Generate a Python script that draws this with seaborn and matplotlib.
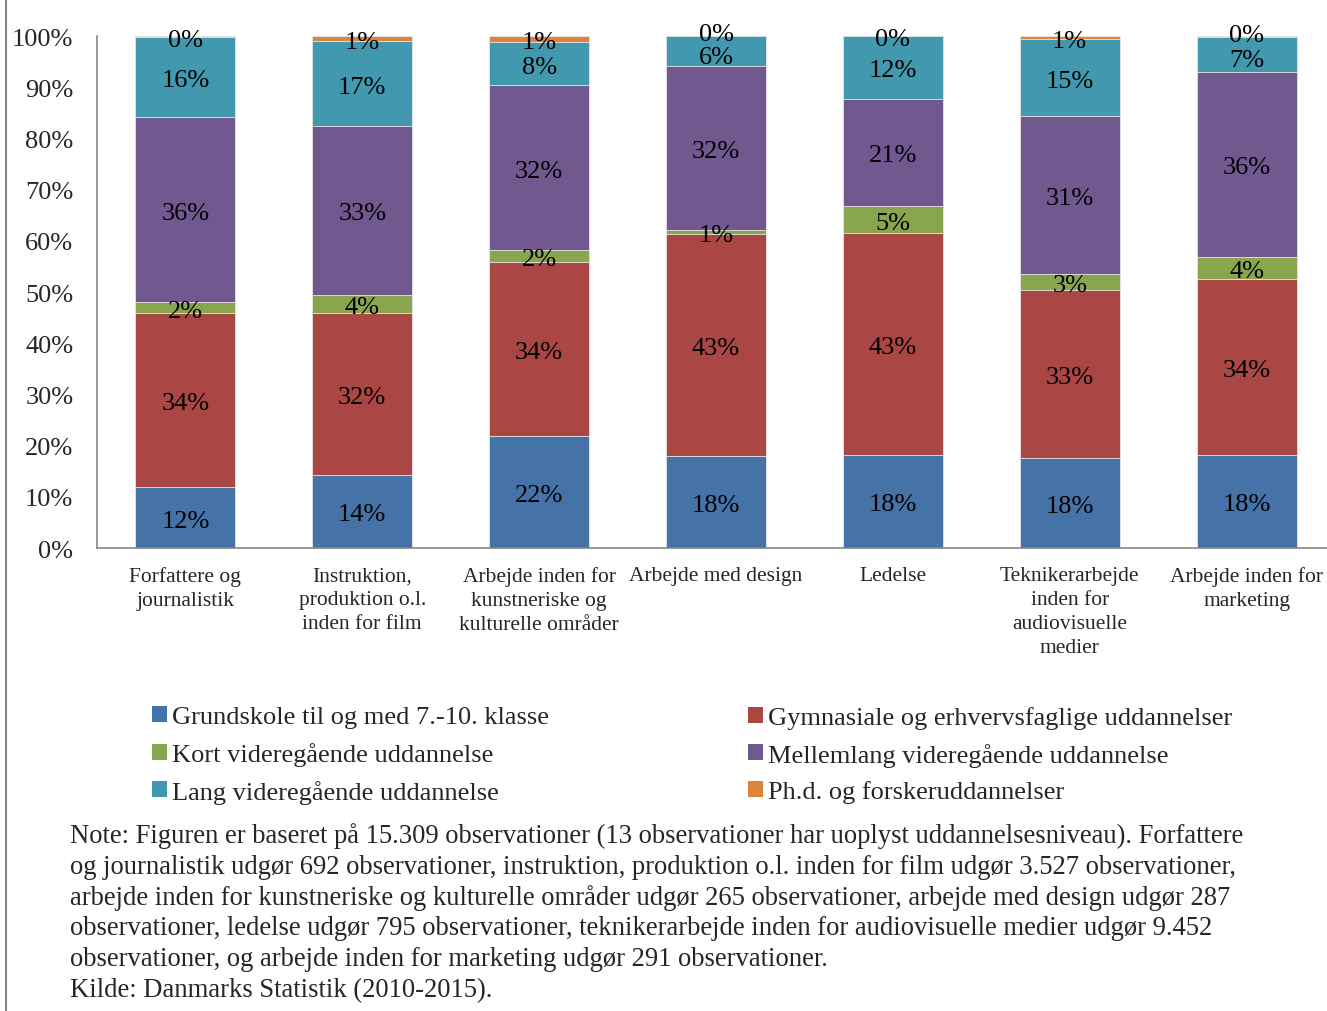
#Libraries
import pandas as pd
import matplotlib
matplotlib.use("Agg")
import matplotlib.pyplot as plt
import matplotlib.transforms as mtransforms
import seaborn as sns
from matplotlib.patches import Patch
from matplotlib.lines import Line2D

#Styling
sns.set_style("white")
plt.rcParams["font.family"] = ["Liberation Serif", "DejaVu Serif"]

#Data (shares in %)
categories = ["Forfattere og\njournalistik",
              "Instruktion,\nproduktion o.l.\ninden for film",
              "Arbejde inden for\nkunstneriske og\nkulturelle områder",
              "Arbejde med design",
              "Ledelse",
              "Teknikerarbejde\ninden for\naudiovisuelle\nmedier",
              "Arbejde inden for\nmarketing"]
levels = ["Grundskole til og med 7.-10. klasse",
          "Gymnasiale og erhvervsfaglige uddannelser",
          "Kort videregående uddannelse",
          "Mellemlang videregående uddannelse",
          "Lang videregående uddannelse",
          "Ph.d. og forskeruddannelser"]
grundskole = [11.9, 14.3, 21.9, 18.0, 18.2, 17.6, 18.2]
gymnasiale = [34.0, 31.6, 34.0, 43.3, 43.3, 32.7, 34.3]
kort = [2.1, 3.6, 2.3, 0.8, 5.3, 3.2, 4.4]
mellemlang = [36.2, 32.9, 32.2, 32.0, 20.9, 30.8, 36.1]
lang = [15.6, 16.6, 8.4, 5.9, 12.3, 15.1, 6.8]
phd = [0.2, 1.0, 1.2, 0.0, 0.0, 0.6, 0.2]
y_ticks = [0, 10, 20, 30, 40, 50, 60, 70, 80, 90, 100]

colors = ["#4572A7", "#AA4643", "#89A54E", "#71588F", "#4198AF", "#DB843D"]

note_lines = [
    "Note: Figuren er baseret på 15.309 observationer (13 observationer har uoplyst uddannelsesniveau). Forfattere",
    "og journalistik udgør 692 observationer, instruktion, produktion o.l. inden for film udgør 3.527 observationer,",
    "arbejde inden for kunstneriske og kulturelle områder udgør 265 observationer, arbejde med design udgør 287",
    "observationer, ledelse udgør 795 observationer, teknikerarbejde inden for audiovisuelle medier udgør 9.452",
    "observationer, og arbejde inden for marketing udgør 291 observationer.",
    "Kilde: Danmarks Statistik (2010-2015).",
]

#Long table with stacked tops
series = [grundskole, gymnasiale, kort, mellemlang, lang, phd]
rows = []
for lvl, vals in zip(levels, series):
    for cat, v in zip(categories, vals):
        rows.append({"category": cat, "level": lvl, "value": v})
df = pd.DataFrame(rows)
df["top"] = df.groupby("category", sort=False)["value"].cumsum()
df["mid"] = df["top"] - df["value"] / 2

#Figure
W, H = 1327, 1012
fig = plt.figure(figsize=(W / 100, H / 100), dpi=100)
ax = fig.add_axes([97 / W, 1 - 549 / H, 1238 / W, 512 / H])

#Draw cumulative bars, top layer first
for lvl, c in reversed(list(zip(levels, colors))):
    sub = df[df["level"] == lvl]
    sns.barplot(data=sub, x="category", y="top", order=categories, color=c,
                saturation=1, width=0.565, edgecolor="#e8e8e8", linewidth=0.6,
                errorbar=None, ax=ax)

#Segment labels (nudged a few px down like the original,
#and pushed apart where the two top labels would collide)
cat_idx = {c: i for i, c in enumerate(categories)}
for _, r in df.iterrows():
    i = cat_idx[r["category"]]
    dy = -3
    crowded = phd[i] < 0.5 and lang[i] < 10
    if crowded and r["level"] == levels[5]:
        dy = 2
    elif crowded and r["level"] == levels[4]:
        dy = -6
    shift = mtransforms.ScaledTranslation(0, dy / 100, fig.dpi_scale_trans)
    ax.text(i, r["mid"], f"{round(r['value'])}%",
            ha="center", va="center", fontsize=19, color="black",
            transform=ax.transData + shift)

ax.set_ylim(0, 100)
ax.set_xlim(-0.5, 6.5)
ax.set_yticks(y_ticks)
ax.set_yticklabels([f"{t}%" for t in y_ticks], fontsize=19)
ax.tick_params(axis="y", length=0, pad=17)
ax.tick_params(axis="x", length=0, pad=13, labelsize=15.5)
for lab in ax.get_xticklabels():
    lab.set_linespacing(1.35)
ax.set_xlabel("")
ax.set_ylabel("")
for s in ["top", "right"]:
    ax.spines[s].set_visible(False)
for s in ["left", "bottom"]:
    ax.spines[s].set_color("#868686")
    ax.spines[s].set_linewidth(1.2)

#Legend in two columns
handles = [Patch(facecolor=c, edgecolor="none") for c in colors]
leg_kw = dict(loc="upper left", frameon=False, fontsize=19, borderpad=0,
              handlelength=0.55, handleheight=0.55, handletextpad=0.2,
              labelspacing=0.52, borderaxespad=0)
fig.legend([handles[0], handles[2], handles[4]], [levels[0], levels[2], levels[4]],
           bbox_to_anchor=(152 / W, 1 - 707 / H), **leg_kw)
fig.legend([handles[1], handles[3], handles[5]], [levels[1], levels[3], levels[5]],
           bbox_to_anchor=(748 / W, 1 - 707 / H), **leg_kw)

#Note text
for i, line in enumerate(note_lines):
    fig.text(70 / W, 1 - (836 + 31 * i) / H, line, ha="left", va="center", fontsize=19.2)

#Frame line at the left edge
fig.add_artist(Line2D([6 / W, 6 / W], [0, 1], color="#868686", linewidth=1.5))

plt.savefig("out.png", dpi=100)
